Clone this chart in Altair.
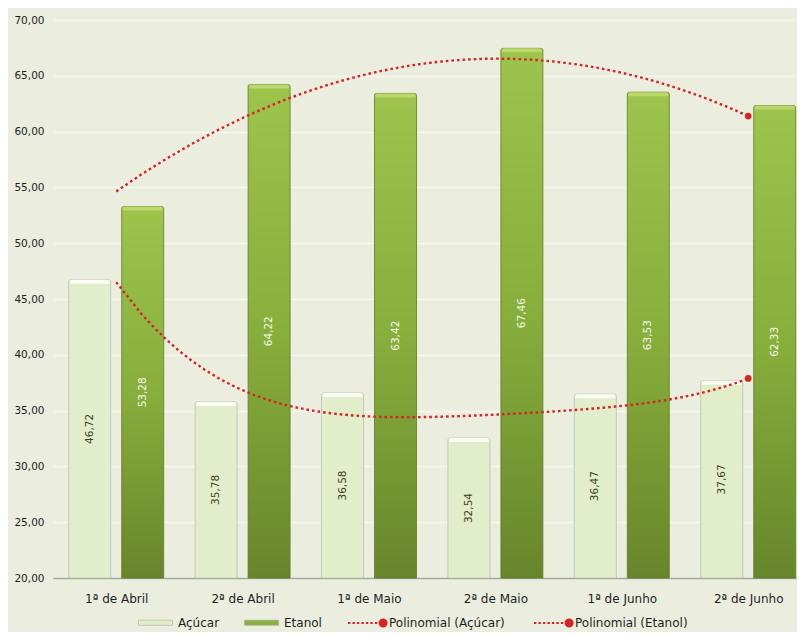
import json
import altair as alt
import pandas as pd

categorias = ["1ª de Abril", "2ª de Abril", "1ª de Maio", "2ª de Maio", "1ª de Junho", "2ª de Junho"]
acucar = [46.72, 35.78, 36.58, 32.54, 36.47, 37.67]
etanol = [53.28, 64.22, 63.42, 67.46, 63.53, 62.33]
series = ["Açúcar", "Etanol"]
tendencias = ["Polinomial (Açúcar)", "Polinomial (Etanol)"]
ordens = {"Açúcar": 4, "Etanol": 2}
y_ticks = [20, 25, 30, 35, 40, 45, 50, 55, 60, 65, 70]

rows = []
for i, c in enumerate(categorias):
    rows.append({"cat": c, "idx": i + 1, "serie": "Açúcar", "val": acucar[i]})
    rows.append({"cat": c, "idx": i + 1, "serie": "Etanol", "val": etanol[i]})
df = pd.DataFrame(rows)

FONT = "DejaVu Sans"
BG = "#EBEEDF"
LIGHT = "#E2EECB"
GREEN = "#8AB03E"
RED = "#D42424"
TXT = "#1E1E1E"
BAR_W = 42
OFFS = {"Açúcar": -26.5, "Etanol": 26.5}

base = alt.Chart(df)

yscale = alt.Scale(domain=[20, 70], nice=False, zero=False, padding=0)
yaxis = alt.Axis(values=y_ticks, format=".2f", title=None, domain=False, ticks=False,
                 labelPadding=9, gridColor="#F5F7EF", gridWidth=1.3, labelFont=FONT,
                 labelFontSize=10.5, labelColor=TXT)
yenc = alt.Y("val:Q", scale=yscale, axis=yaxis)

xscale = alt.Scale(domain=[0.5, 6.386], nice=False, zero=False, padding=0)
label_expr = json.dumps(categorias, ensure_ascii=False) + "[datum.value - 1]"
xaxis = alt.Axis(title=None, values=[1, 2, 3, 4, 5, 6], labelExpr=label_expr,
                 labelAngle=0, ticks=False, grid=False, domainColor="#A2A6A0",
                 domainWidth=1.5, labelPadding=15, labelFont=FONT,
                 labelFontSize=12, labelColor=TXT, labelFlush=False,
                 labelOverlap=False)
xenc = alt.X("idx:Q", scale=xscale, axis=xaxis)

grad = alt.Gradient(gradient="linear", x1=0, y1=0, x2=0, y2=1,
                    stops=[alt.GradientStop(color="#9DC44C", offset=0),
                           alt.GradientStop(color="#88AE3C", offset=0.5),
                           alt.GradientStop(color="#67862B", offset=1)])

bar_legend = alt.Legend(title=None, orient="none", legendX=85, legendY=585,
                        direction="horizontal",
                        symbolType="M-1,-0.15H1V0.15H-1Z", symbolSize=1156,
                        symbolStrokeWidth=0.5, symbolStrokeColor="#9AA58A",
                        labelFont=FONT, labelFontSize=12, labelColor=TXT,
                        labelOffset=5, columnPadding=23)

layers = []
# Açúcar bars (carry the bar legend)
layers.append(
    base.transform_filter(alt.datum.serie == "Açúcar").mark_bar(
        width=BAR_W, xOffset=OFFS["Açúcar"], stroke="#B8C2A4", strokeWidth=0.8,
        cornerRadiusTopLeft=2, cornerRadiusTopRight=2).encode(
        x=xenc, y=yenc, y2=alt.datum(20),
        color=alt.Color("serie:N", scale=alt.Scale(domain=series, range=[LIGHT, GREEN]),
                        legend=bar_legend))
)
# Etanol bars with gradient
layers.append(
    base.transform_filter(alt.datum.serie == "Etanol").mark_bar(
        width=BAR_W, xOffset=OFFS["Etanol"], fill=grad, stroke="#5E7C25", strokeWidth=0.8,
        cornerRadiusTopLeft=2, cornerRadiusTopRight=2).encode(
        x=xenc, y=yenc, y2=alt.datum(20))
)
# light caps on top of the bars, and value labels
cap_colors = {"Açúcar": "#FAFCF4", "Etanol": "#BCD86C"}
label_colors = {"Açúcar": "#3A3D22", "Etanol": "#F4F8EA"}
for s in series:
    layers.append(
        base.transform_filter(alt.datum.serie == s).mark_bar(
            width=BAR_W - 2, xOffset=OFFS[s], y2Offset=4, color=cap_colors[s],
            cornerRadiusTopLeft=2, cornerRadiusTopRight=2, strokeWidth=0).encode(
            x=xenc, y=yenc, y2=alt.Y2("val:Q"))
    )
    layers.append(
        base.transform_filter(alt.datum.serie == s).transform_calculate(
            mid="(datum.val + 20) / 2").mark_text(
            angle=270, font=FONT, fontSize=10.5, xOffset=OFFS[s], color=label_colors[s]).encode(
            x=xenc,
            y=alt.Y("mid:Q", scale=yscale, axis=yaxis),
            text=alt.Text("val:Q", format=".2f"))
    )

line_symbol = ("M-1,0H-0.88M-0.77,0H-0.65M-0.54,0H-0.42M-0.31,0H-0.19M-0.08,0H0.04"
               "M0.15,0H0.27M0.38,0H0.5"
               "M0.62,0A0.18,0.18 0 1,0 0.98,0A0.18,0.18 0 1,0 0.62,0Z")

trend_legend = alt.Legend(title=None, orient="none", legendX=294, legendY=582,
                          direction="horizontal", symbolType=line_symbol,
                          symbolSize=1521, symbolStrokeWidth=2,
                          symbolFillColor=RED, symbolDash=[],
                          labelFont=FONT, labelFontSize=12, labelColor=TXT,
                          labelOffset=1, columnPadding=25)


def regress(serie):
    return base.transform_filter(alt.datum.serie == serie).transform_regression(
        "idx", "val", method="poly", order=ordens[serie], groupby=["serie"]
    )


for k, s in enumerate(series):
    layers.append(
        regress(s).transform_calculate(trend="'Polinomial (' + datum.serie + ')'").mark_line(
            strokeDash=[2.6, 3], strokeWidth=2.4).encode(
            x=xenc, y=yenc,
            color=alt.Color("trend:N", scale=alt.Scale(domain=tendencias, range=[RED, RED]),
                            legend=trend_legend if k == 0 else None))
    )
for s in series:
    layers.append(
        regress(s).transform_joinaggregate(m="max(idx)").transform_filter(
            "datum.idx >= datum.m").mark_point(filled=True, size=45, color=RED, opacity=1
        ).encode(x=xenc, y=yenc)
    )

chart = alt.layer(*layers).resolve_scale(color="independent").properties(
    width=744, height=558,
    autosize=alt.AutoSizeParams(type="none"),
    padding={"left": 45, "top": 12, "right": 0, "bottom": 54},
    background=BG,
).configure(
    locale={"number": {"decimal": ",", "thousands": ".", "grouping": [3], "currency": ["R$", ""]}},
    view=alt.ViewConfig(stroke=None),
)

chart.save("out.html", embed_options={"renderer": "svg", "actions": False})
